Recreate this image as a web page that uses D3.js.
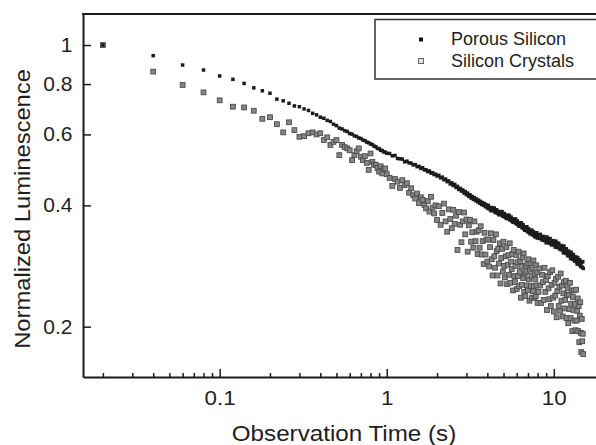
<!DOCTYPE html>
<html lang="en">
  <head>
    <meta charset="utf-8">
    <script src="https://d3js.org/d3.v7.min.js"></script>
    <style>
      body { margin: 0; background: #fff; }
      text { font-family: "Liberation Sans", Arial, sans-serif; fill: #1e1e1e; }
    </style>
  </head>
  <body>
    <svg width="596" height="445"></svg>
    <script>
      // observation times (s)
      var time = [
        .02,.04,.06,.08,.1,.12,.14,.16,.18,.2,
        .22,.24,.26,.28,.3,.32,.34,.36,.38,.4,
        .42,.44,.46,.48,.5,.52,.54,.56,.58,.6,
        .62,.64,.66,.68,.7,.72,.74,.76,.78,.8,
        .82,.84,.86,.88,.9,.92,.94,.96,.98,1,
        1.04,1.08,1.12,1.16,1.2,1.24,1.28,1.32,1.36,1.4,
        1.44,1.48,1.52,1.56,1.6,1.64,1.68,1.72,1.76,1.8,
        1.84,1.88,1.92,1.96,2,
        2.05,2.1,2.15,2.2,2.25,2.3,2.35,2.4,2.45,2.5,
        2.55,2.6,2.65,2.7,2.75,2.8,2.85,2.9,2.95,3,
        3.05,3.1,3.15,3.2,3.25,3.3,3.35,3.4,3.45,3.5,
        3.55,3.6,3.65,3.7,3.75,3.8,3.85,3.9,3.95,4,
        4.05,4.1,4.15,4.2,4.25,4.3,4.35,4.4,4.45,4.5,
        4.55,4.6,4.65,4.7,4.75,4.8,4.85,4.9,4.95,5,
        5.05,5.1,5.15,5.2,5.25,5.3,5.35,5.4,5.45,5.5,
        5.55,5.6,5.65,5.7,5.75,5.8,5.85,5.9,5.95,6,
        6.05,6.1,6.15,6.2,6.25,6.3,6.35,6.4,6.45,6.5,
        6.55,6.6,6.65,6.7,6.75,6.8,6.85,6.9,6.95,7,
        7.05,7.1,7.15,7.2,7.25,7.3,7.35,7.4,7.45,7.5,
        7.55,7.6,7.65,7.7,7.75,7.8,7.85,7.9,7.95,8,
        8.1,8.2,8.3,8.4,8.5,8.6,8.7,8.8,8.9,9,
        9.1,9.2,9.3,9.4,9.5,9.6,9.7,9.8,9.9,10,
        10.1,10.2,10.3,10.4,10.5,10.6,10.7,10.8,10.9,11,
        11.1,11.2,11.3,11.4,11.5,11.6,11.7,11.8,11.9,12,
        12.1,12.2,12.3,12.4,12.5,12.6,12.7,12.8,12.9,13,
        13.1,13.2,13.3,13.4,13.5,13.6,13.7,13.8,13.9,14,
        14.1,14.2,14.3,14.4,14.5,14.6,14.7,14.8,14.9,15
      ];
      // normalized luminescence, porous silicon
      var porous = [
        1,.941,.892,.867,.838,.822,.803,.783,.770,.759,
        .734,.727,.717,.706,.703,.694,.688,.677,.671,.662,
        .658,.650,.646,.636,.631,.622,.619,.613,.610,.603,
        .601,.595,.593,.588,.586,.581,.579,.574,.572,.568,
        .566,.561,.559,.554,.553,.548,.547,.543,.542,.539,
        .538,.531,.532,.523,.522,.521,.513,.515,.510,.509,
        .504,.505,.499,.500,.494,.496,.490,.490,.485,.487,
        .481,.482,.477,.478,.473,
        .475,.468,.470,.463,.465,.458,.460,.452,.455,.448,
        .451,.443,.446,.438,.441,.434,.437,.429,.433,.425,
        .429,.421,.425,.417,.421,.414,.418,.411,.415,.408,
        .412,.405,.409,.402,.406,.400,.404,.397,.401,.394,
        .400,.392,.395,.388,.395,.391,.388,.394,.384,.389,
        .390,.382,.386,.379,.386,.382,.379,.386,.376,.381,
        .382,.374,.378,.371,.378,.374,.371,.378,.368,.373,
        .374,.366,.370,.363,.370,.366,.363,.370,.360,.365,
        .366,.358,.362,.355,.362,.358,.355,.362,.352,.357,
        .358,.350,.354,.347,.354,.350,.347,.354,.344,.349,
        .350,.343,.346,.340,.347,.343,.341,.347,.338,.343,
        .344,.337,.340,.334,.341,.338,.335,.342,.332,.338,
        .338,.331,.339,.332,.328,.334,.335,.327,.330,.323,
        .334,.326,.330,.322,.331,.324,.319,.325,.327,.319,
        .321,.315,.326,.317,.322,.314,.322,.315,.311,.317,
        .318,.310,.312,.305,.317,.308,.312,.304,.312,.305,
        .300,.306,.308,.300,.302,.295,.306,.298,.302,.294,
        .302,.295,.291,.297,.298,.290,.292,.286,.297,.288,
        .292,.285,.293,.286,.282,.288,.289,.281,.290,.279
      ];
      // normalized luminescence, silicon crystals
      var crystals = [
        1,.859,.796,.763,.729,.703,.700,.687,.656,.662,
        .636,.607,.643,.615,.592,.594,.604,.607,.600,.604,
        .581,.590,.565,.575,.581,.533,.565,.558,.554,.548,
        .518,.533,.545,.554,.528,.518,.530,.510,.490,.538,
        .513,.505,.504,.495,.485,.500,.480,.493,.494,.478,
        .468,.447,.465,.458,.442,.462,.449,.454,.430,.441,
        .424,.416,.428,.405,.419,.413,.401,.393,.410,.386,
        .420,.395,.382,.400,.368,
        .398,.358,.383,.404,.365,.344,.391,.370,.351,.390,
        .360,.377,.310,.385,.358,.324,.365,.384,.339,.369,
        .307,.357,.368,.325,.343,.314,.365,.326,.344,.303,
        .347,.314,.355,.302,.326,.286,.342,.302,.329,.290,
        .329,.282,.315,.341,.294,.268,.328,.299,.280,.339,
        .308,.268,.312,.287,.322,.256,.296,.312,.274,.325,
        .283,.265,.299,.315,.255,.285,.301,.269,.322,.257,
        .290,.278,.303,.246,.310,.267,.258,.283,.301,.248,
        .289,.267,.307,.252,.273,.291,.236,.282,.254,.297,
        .264,.304,.244,.271,.238,.283,.274,.253,.287,.246,
        .294,.262,.232,.277,.287,.252,.267,.236,.280,.245,
        .292,.252,.236,.270,.262,.238,.284,.253,.273,.229,
        .244,.279,.253,.229,.269,.258,.233,.280,.244,.261,
        .220,.267,.249,.234,.273,.225,.254,.276,.236,.218,
        .257,.239,.263,.211,.245,.266,.225,.251,.219,.271,
        .232,.253,.212,.242,.258,.222,.233,.260,.210,.240,
        .249,.204,.240,.221,.257,.210,.228,.246,.195,.237,
        .220,.246,.207,.228,.196,.247,.207,.219,.235,.195,
        .225,.183,.213,.230,.193,.173,.209,.184,.192,.171
      ];
      var seriesNames = ["Porous Silicon", "Silicon Crystals"];
      var xMajor = [0.1, 1, 10];
      var xMajorLabels = ["0.1", "1", "10"];
      var xMinor = [0.02,0.03,0.04,0.05,0.06,0.07,0.08,0.09,
                    0.2,0.3,0.4,0.5,0.6,0.7,0.8,0.9,
                    2,3,4,5,6,7,8,9];
      var yTicks = [0.2, 0.4, 0.6, 0.8, 1];
      var yTickLabels = ["0.2", "0.4", "0.6", "0.8", "1"];

      var svg = d3.select("svg");
      // plot box; the right side runs past the picture
      var box = {left: 83, top: 14, bottom: 377, right: 600};

      var x = d3.scaleLog().domain([0.0152, 18.9]).range([box.left, box.right]);
      var y = d3.scaleLog().domain([0.15, 1.194]).range([box.bottom, box.top]);

      // points
      svg.append("g").selectAll("rect")
        .data(time)
        .join("rect")
          .attr("x", d => x(d) - 2.4)
          .attr("y", (d, i) => y(crystals[i]) - 2.4)
          .attr("width", 4.8)
          .attr("height", 4.8)
          .style("fill", "#868686")
          .style("stroke", "#4a4a4a")
          .style("stroke-width", 0.9);
      svg.append("g").selectAll("rect")
        .data(time)
        .join("rect")
          .attr("x", d => x(d) - 1.75)
          .attr("y", (d, i) => y(porous[i]) - 1.75)
          .attr("width", 3.5)
          .attr("height", 3.5)
          .style("fill", "#1c1c1c");

      // axes, ticks point inward
      var gx = svg.append("g")
        .attr("transform", `translate(0,${box.bottom})`)
        .call(d3.axisBottom(x)
          .tickValues(xMajor)
          .tickFormat((d, i) => xMajorLabels[i])
          .tickSizeInner(-8).tickSizeOuter(0).tickPadding(14));
      var gxm = svg.append("g")
        .attr("transform", `translate(0,${box.bottom})`)
        .call(d3.axisBottom(x).tickValues(xMinor).tickFormat("").tickSize(-4));
      gxm.select(".domain").remove();
      var gy = svg.append("g")
        .attr("transform", `translate(${box.left},0)`)
        .call(d3.axisLeft(y)
          .tickValues(yTicks)
          .tickFormat((d, i) => yTickLabels[i])
          .tickSizeInner(-8).tickSizeOuter(0).tickPadding(10));

      svg.selectAll(".domain").style("stroke", "#1a1a1a").style("stroke-width", 2);
      svg.selectAll(".tick line").style("stroke", "#1a1a1a").style("stroke-width", 1.5);
      svg.selectAll(".tick text").attr("font-size", null).attr("font-family", null)
        .style("font-size", "20px");
      // the original face runs a little wider than Arial
      gx.selectAll(".tick text").attr("transform", "scale(1.12,1)");
      gy.selectAll(".tick text").attr("transform", "scale(1.05,1)");

      svg.append("line")
        .attr("x1", box.left - 1).attr("x2", box.right)
        .attr("y1", box.top).attr("y2", box.top)
        .style("stroke", "#1a1a1a").style("stroke-width", 2);

      // axis titles
      svg.append("text")
        .attr("transform", "translate(344,441) scale(1.1,1)")
        .attr("text-anchor", "middle")
        .style("font-size", "22px")
        .text("Observation Time (s)");
      svg.append("text")
        .attr("transform", "translate(29.5,209) rotate(-90) scale(1.08,1)")
        .attr("text-anchor", "middle")
        .style("font-size", "22px")
        .text("Normalized Luminescence");

      // legend
      var legend = svg.append("g");
      legend.append("rect")
        .attr("x", 375).attr("y", 19.5)
        .attr("width", 260).attr("height", 59.5)
        .style("fill", "#fff")
        .style("stroke", "#333")
        .style("stroke-width", 1.5);
      legend.append("rect")
        .attr("x", 419).attr("y", 37.5).attr("width", 4).attr("height", 4)
        .style("fill", "#111");
      legend.append("rect")
        .attr("x", 418.5).attr("y", 58.5).attr("width", 5).attr("height", 5)
        .style("fill", "#e6e6e6").style("stroke", "#666").style("stroke-width", 1);
      legend.selectAll("text.lg")
        .data(seriesNames)
        .join("text")
          .attr("class", "lg")
          .attr("x", 451)
          .attr("y", (d, i) => 44.5 + i * 22)
          .style("font-size", "18px")
          .text(d => d);
    </script>
  </body>
</html>
